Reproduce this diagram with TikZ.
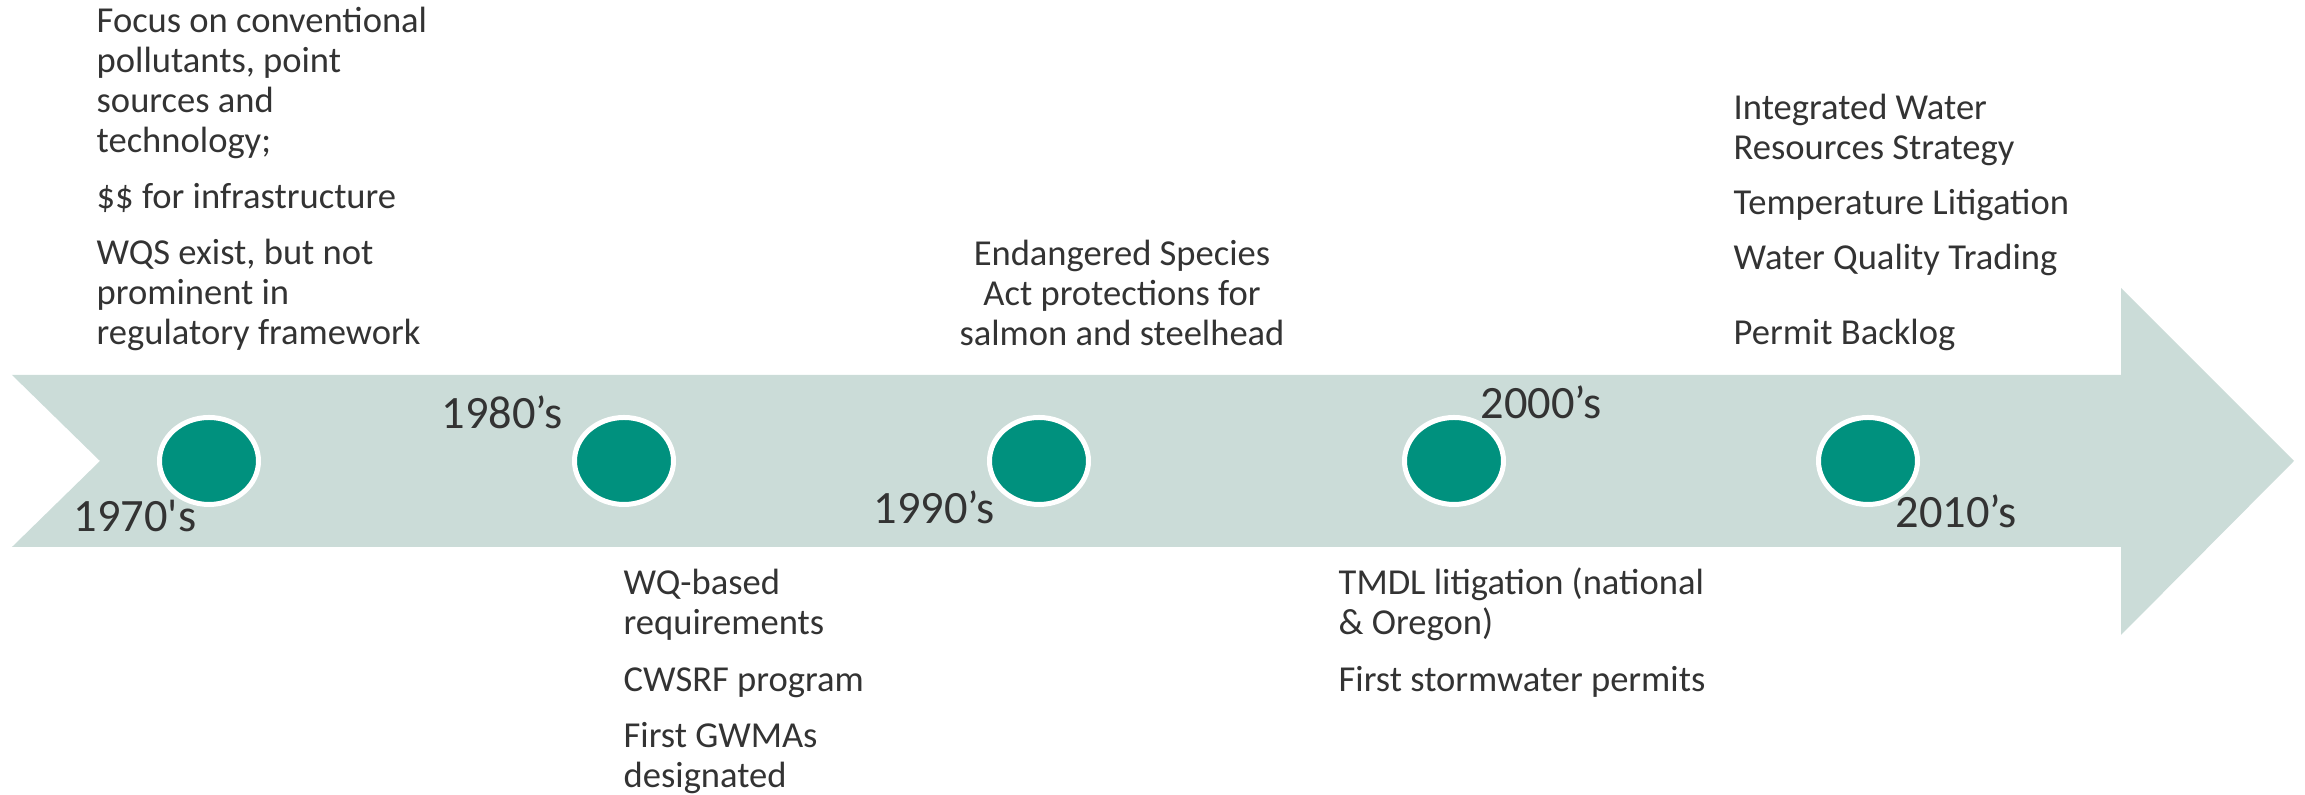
\documentclass[tikz,border=0pt]{standalone}
\usepackage{fontspec}
\setmainfont{Carlito}
\usepackage{tikz}
\usetikzlibrary{shapes.geometric}
\definecolor{bandfill}{RGB}{203, 220, 216}
\definecolor{dotgreen}{RGB}{0, 145, 126}
\definecolor{textgray}{RGB}{51, 51, 51}
\tikzset{
  % the big arrow that carries the timeline
  band/.style={fill=bandfill, draw=none},
  %
  % decade markers (green dot with a white ring)
  decade/.style={
    ellipse, fill=dotgreen, draw=white, line width=0.05cm,
    minimum width=0.99cm, minimum height=0.87cm, inner sep=0pt
  },
  % decade labels sitting on the band
  year/.style={
    inner sep=0pt, anchor=base west, text=textgray,
    font=\fontsize{13.2}{15}\selectfont
  },
  % event notes above / below the band
  % NOTE: 'base' of a multi-line node is the baseline of its LAST line
  event/.style={
    inner sep=0pt, anchor=base west, align=left, text=textgray,
    font=\fontsize{10.4}{11.4}\selectfont
  },
  eventc/.style={event, anchor=base, align=center},
}

\begin{document}
\begin{tikzpicture}[x=1cm, y=1cm]
  \useasboundingbox (0,0) rectangle (23.05,7.95);

  %% ── Band (notched arrow) ───────────────────────────────────────────────
  \coordinate (tl)    at ( 0.12, 4.20);
  \coordinate (notch) at ( 1.00, 3.34);
  \coordinate (bl)    at ( 0.12, 2.48);
  \coordinate (hb)    at (21.21, 2.48);
  \coordinate (hbb)   at (21.21, 1.60);
  \coordinate (tip)   at (22.94, 3.34);
  \coordinate (htt)   at (21.21, 5.07);
  \coordinate (ht)    at (21.21, 4.20);
  \fill[band] (tl) -- (notch) -- (bl) -- (hb) -- (hbb) -- (tip)
              -- (htt) -- (ht) -- cycle;

  %% ── Decade markers ─────────────────────────────────────────────────────
  \node[decade] (c1970) at ( 2.09, 3.34) {};
  \node[decade] (c1980) at ( 6.24, 3.34) {};
  \node[decade] (c1990) at (10.39, 3.34) {};
  \node[decade] (c2000) at (14.54, 3.34) {};
  \node[decade] (c2010) at (18.68, 3.34) {};

  %% ── Decade labels ──────────────────────────────────────────────────────
  \node[year] (y1970) at ( 0.73, 2.63) {1970\textquotesingle s};
  \node[year] (y1980) at ( 4.41, 3.66) {1980’s};
  \node[year] (y1990) at ( 8.73, 2.71) {1990’s};
  \node[year] (y2000) at (14.80, 3.76) {2000’s};
  \node[year] (y2010) at (18.95, 2.67) {2010’s};

  %% ── Events: 1970's (above) ─────────────────────────────────────────────
  \node[event] (e70a) at (0.96, 6.42) {Focus on conventional\\pollutants, point\\sources and\\technology;};
  \node[event] (e70b) at (0.96, 5.86) {\$\$ for infrastructure};
  \node[event] (e70c) at (0.96, 4.50) {WQS exist, but not\\prominent in\\regulatory framework};

  %% ── Events: 1980's (below) ─────────────────────────────────────────────
  \node[event] (e80a) at (6.23, 1.60) {WQ-based\\requirements};
  \node[event] (e80b) at (6.23, 1.03) {CWSRF program};
  \node[event] (e80c) at (6.23, 0.07) {First GWMAs\\designated};

  %% ── Events: 1990's (above) ─────────────────────────────────────────────
  \node[eventc] (e90a) at (11.22, 4.49) {Endangered Species\\Act protections for\\salmon and steelhead};

  %% ── Events: 2000's (below) ─────────────────────────────────────────────
  \node[event] (e00a) at (13.38, 1.60) {TMDL litigation (national\\\& Oregon)};
  \node[event] (e00b) at (13.38, 1.03) {First stormwater permits};

  %% ── Events: 2010's (above) ─────────────────────────────────────────────
  \node[event] (e10a) at (17.33, 6.35) {Integrated Water\\Resources Strategy};
  \node[event] (e10b) at (17.33, 5.80) {Temperature Litigation};
  \node[event] (e10c) at (17.33, 5.25) {Water Quality Trading};
  \node[event] (e10d) at (17.33, 4.50) {Permit Backlog};

\end{tikzpicture}
\end{document}
